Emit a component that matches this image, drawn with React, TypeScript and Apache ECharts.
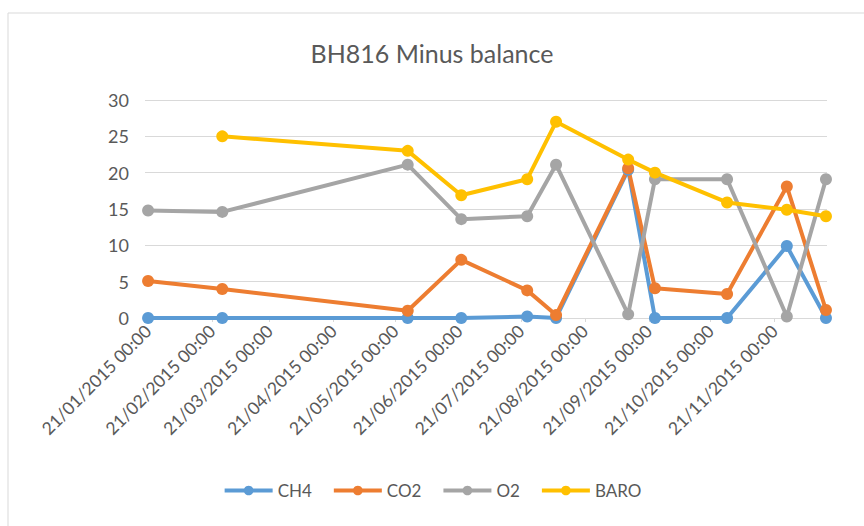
import React, { useEffect, useRef } from "react";
import * as echarts from "echarts";

const TITLE = "BH816 Minus balance";
const SERIES_NAMES = ["CH4", "CO2", "O2", "BARO"];
const SERIES_COLORS = ["#5B9BD5", "#ED7D31", "#A5A5A5", "#FFC000"];

// sample dates (yyyy-mm-dd)
const dates = [
  "2015-01-21",
  "2015-02-26",
  "2015-05-27",
  "2015-06-22",
  "2015-07-24",
  "2015-08-07",
  "2015-09-11",
  "2015-09-24",
  "2015-10-29",
  "2015-11-27",
  "2015-12-16",
];

const ch4 = [0, 0, 0, 0, 0.2, 0, 20.4, 0, 0, 9.9, 0];
const co2 = [5.1, 4.0, 1.0, 8.0, 3.8, 0.4, 20.6, 4.1, 3.3, 18.1, 1.1];
const o2 = [14.8, 14.6, 21.1, 13.6, 14.0, 21.1, 0.5, 19.1, 19.1, 0.2, 19.1];
const baro = [null, 25.0, 23.0, 16.9, 19.1, 27.0, 21.8, 20.0, 15.9, 14.9, 14.0];

// x-axis tick labels (21st of each month)
const tickDates = [
  "2015-01-21",
  "2015-02-21",
  "2015-03-21",
  "2015-04-21",
  "2015-05-21",
  "2015-06-21",
  "2015-07-21",
  "2015-08-21",
  "2015-09-21",
  "2015-10-21",
  "2015-11-21",
];

const yTicks = [0, 5, 10, 15, 20, 25, 30];

const toTs = (s: string) => {
  const [y, m, d] = s.split("-").map(Number);
  return Date.UTC(y, m - 1, d);
};
const DAY = 86400000;
const fmt = (ts: number) => {
  const d = new Date(ts);
  const dd = String(d.getUTCDate()).padStart(2, "0");
  const mm = String(d.getUTCMonth() + 1).padStart(2, "0");
  return `${dd}/${mm}/${d.getUTCFullYear()} 00:00`;
};

export default function App() {
  const ref = useRef<HTMLDivElement>(null);
  useEffect(() => {
    if (!ref.current) return;
    const chart = echarts.init(ref.current, null, { renderer: "svg" });
    const font = "Lato, 'Open Sans', sans-serif";
    const seriesData = [ch4, co2, o2, baro];
    const tickTs = tickDates.map(toTs);
    const option: any = {
      animation: false,
      backgroundColor: "#ffffff",
      title: {
        text: TITLE,
        left: "center",
        top: 35,
        textStyle: { fontFamily: font, fontSize: 25, fontWeight: "normal", color: "#595959" },
      },
      legend: {
        bottom: 22,
        left: "center",
        itemWidth: 48,
        itemHeight: 12,
        itemGap: 20,
        data: SERIES_NAMES,
        lineStyle: { width: 4 },
        textStyle: { fontFamily: font, fontSize: 17, color: "#595959" },
      },
      grid: { left: 145, right: 37, top: 100, bottom: 208, containLabel: false },
      xAxis: {
        type: "value",
        min: toTs(dates[0]) - 1.5 * DAY,
        max: toTs(dates[dates.length - 1]) + 0.5 * DAY,
        splitLine: { show: false },
        axisLine: { show: true, lineStyle: { color: "#d9d9d9", width: 1 } },
        axisTick: {
          show: true,
          customValues: tickTs,
          length: 4,
          lineStyle: { color: "#d9d9d9" },
        },
        axisLabel: {
          customValues: tickTs,
          rotate: 45,
          fontFamily: font,
          fontSize: 17.5,
          color: "#595959",
          margin: 10,
          formatter: (v: number) => fmt(v),
        },
      },
      yAxis: {
        type: "value",
        min: 0,
        max: 30,
        interval: 5,
        axisLine: { show: false },
        axisTick: { show: false },
        splitLine: { lineStyle: { color: "#d9d9d9", width: 1 } },
        axisLabel: {
          fontFamily: font,
          fontSize: 18,
          color: "#595959",
          margin: 16,
          formatter: (v: number) => (yTicks.includes(v) ? String(v) : ""),
        },
      },
      series: SERIES_NAMES.map((name, i) => ({
        name,
        type: "line",
        data: dates.map((d, j) => [toTs(d), seriesData[i][j]]),
        connectNulls: false,
        symbol: "circle",
        symbolSize: 12,
        showSymbol: true,
        lineStyle: { width: 4, color: SERIES_COLORS[i] },
        itemStyle: { color: SERIES_COLORS[i] },
        color: SERIES_COLORS[i],
      })),
      graphic: [
        {
          type: "line",
          shape: { x1: 8, y1: 13, x2: 864, y2: 13 },
          style: { stroke: "#d9d9d9", lineWidth: 1 },
          silent: true,
        },
        {
          type: "line",
          shape: { x1: 8, y1: 13, x2: 8, y2: 526 },
          style: { stroke: "#d9d9d9", lineWidth: 1 },
          silent: true,
        },
      ],
    };
    chart.setOption(option);
    return () => chart.dispose();
  }, []);
  return (
    <div
      ref={ref}
      style={{ position: "absolute", left: 0, top: 0, width: 864, height: 526 }}
    />
  );
}
